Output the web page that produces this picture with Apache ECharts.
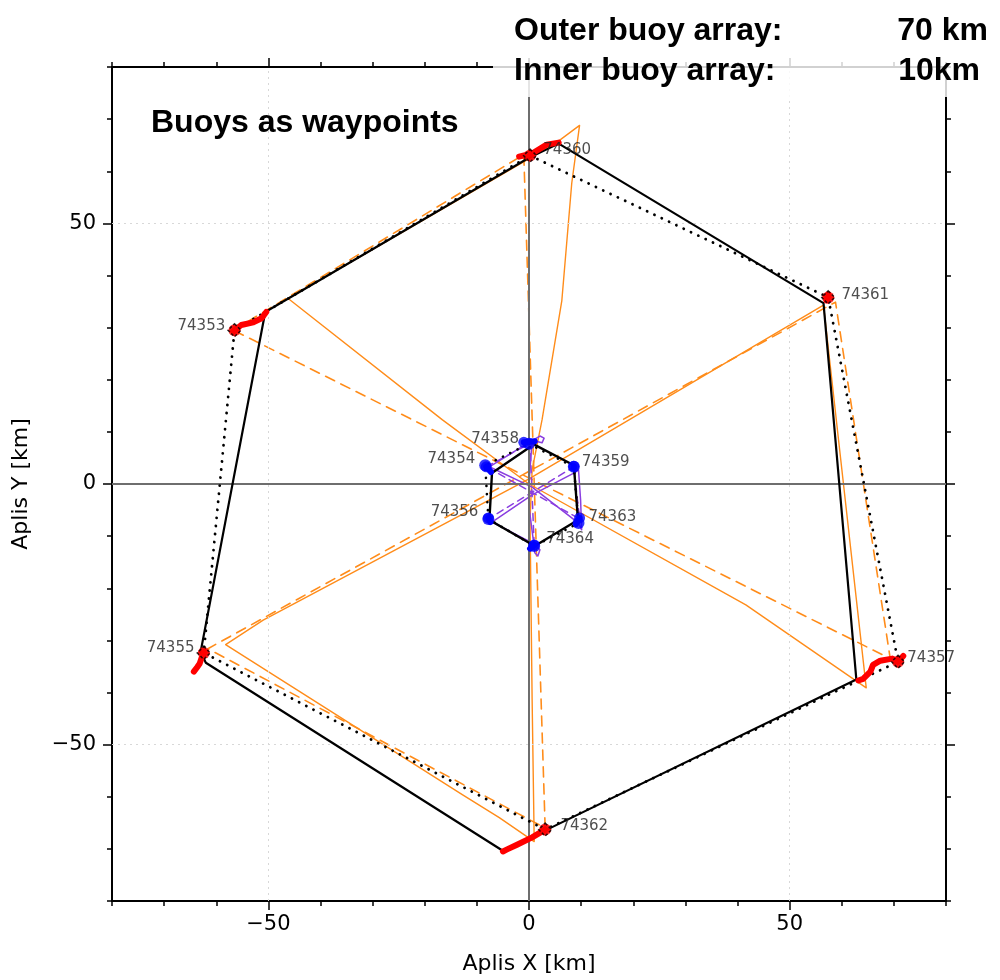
<!DOCTYPE html>
<html>
<head>
<meta charset="utf-8">
<script src="https://cdn.jsdelivr.net/npm/echarts@6/dist/echarts.min.js"></script>
<style>
  html, body { margin: 0; padding: 0; background: #fff; }
  #chart { width: 1000px; height: 980px; }
</style>
</head>
<body>
<div id="chart"></div>
<script>
// Axis range and tick labels (km)
const axisMin = -80;
const axisMax = 80;
const majorTicks = [-50, 0, 50];
const minorTicks = [-80, -70, -60, -50, -40, -30, -20, -10, 0, 10, 20, 30, 40, 50, 60, 70, 80];

// Outer buoy array: final positions (km)
const outerIds = ['74360', '74361', '74357', '74362', '74355', '74353'];
const outerX = [0.2, 57.4, 70.8, 3.1, -62.4, -56.5];
const outerY = [63.0, 35.8, -34.1, -66.3, -32.4, 29.5];

// Inner buoy array: final positions (km)
const innerIds = ['74358', '74359', '74363', '74364', '74356', '74354'];
const innerX = [0.0, 8.6, 9.5, 1.0, -7.8, -8.4];
const innerY = [7.7, 3.3, -7.5, -11.9, -6.7, 3.6];

// Drift tracks of the outer buoys (km)
const drift74360 = [[-1.9, 62.8], [0.6, 63.4], [3.4, 65.1], [5.7, 65.5]];
const drift74361 = [[57.1, 35.2], [57.3, 36.0], [57.4, 36.4]];
const drift74357 = [[71.8, -33.0], [70.8, -34.1], [69.7, -33.5], [67.4, -33.9], [66.0, -34.7], [65.5, -36.0], [64.1, -37.4], [63.2, -37.7]];
const drift74362 = [[3.1, -66.3], [0.6, -67.8], [-2.3, -69.2], [-4.2, -70.1], [-5.0, -70.5]];
const drift74355 = [[-62.2, -32.2], [-62.8, -33.3], [-63.2, -34.5], [-63.7, -35.2], [-64.3, -36.0]];
const drift74353 = [[-56.7, 29.3], [-55.2, 30.5], [-52.9, 31.0], [-51.3, 31.8], [-50.4, 33.0]];

// Drift of the inner buoys (km)
const drift74358 = [[-1.0, 8.0], [1.1, 8.2]];
const drift74359 = [[8.6, 3.4], [8.6, 3.1]];
const drift74363 = [[9.7, -6.5], [9.0, -7.7]];
const drift74364 = [[1.0, -11.7], [0.2, -12.4]];
const drift74356 = [[-7.8, -6.5], [-7.4, -7.3]];
const drift74354 = [[-8.2, 3.3], [-7.3, 2.3]];

// Ship route through the outer buoys at visiting time (km)
const outerRoute = [[-4.8, -70.5], [-62.0, -34.3], [-63.0, -32.2], [-50.6, 33.0], [0.0, 62.6], [5.7, 65.3],
  [56.5, 34.7], [62.8, -37.5], [3.05, -66.5], [-4.8, -70.5]];

// Ship route through the inner buoys (km)
const innerRoute = [[1.1, 7.5], [8.6, 3.6], [9.4, -6.9], [1.1, -11.9], [-7.6, -6.9], [-7.1, 2.1], [0.2, 7.1]];

// Planned track for the outer array (km)
const outerPlan = [[-56.7, 29.5], [-1.0, 63.2], [3.1, -66.0], [-61.6, -31.6], [58.8, 34.9], [69.3, -33.5], [-56.7, 29.5]];

// Sailed track for the outer array (km)
const outerTrack = [[-46.2, 35.6], [5.0, 65.3], [9.7, 68.8], [8.2, 57.7], [6.3, 35.2], [2.5, 12.3], [0.6, 2.7],
  [0.2, -6.9], [0.6, -41.4], [1.0, -68.6], [-5.7, -64.0], [-12.8, -59.6], [-58.2, -30.8], [-51.0, -26.1],
  [0.0, 1.0], [56.5, 34.3], [64.7, -39.1], [41.6, -23.2], [0.0, 0.0], [-16.6, 12.3], [-46.2, 35.6]];

// Planned track for the inner array (km)
const innerPlan = [[-8.2, 3.3], [0.2, 7.8], [1.0, -11.9], [-7.8, -6.7], [8.6, 3.3], [9.7, -6.7], [-8.2, 3.3]];

// Sailed track for the inner array (km)
const innerTrack = [[-7.6, 3.3], [0.0, 8.0], [2.1, 9.2], [2.9, 8.8], [2.5, 7.9], [0.6, 8.4], [0.0, 0.2], [0.0, -4.4],
  [1.0, -12.1], [1.1, -13.2], [1.7, -13.8], [2.1, -12.6], [1.0, -11.5], [-7.1, -7.3], [0.6, -2.1], [8.6, 2.1],
  [9.5, 2.7], [9.9, -3.1], [10.1, -8.8], [9.5, -7.5], [0.6, -0.6], [-7.6, 3.3]];

const orange = '#ff8c1a';
const purple = '#8a3ee0';

const chart = echarts.init(document.getElementById('chart'), null, { renderer: 'canvas' });

const grid = { left: 112, top: 67, width: 834, height: 835 };
const tickFont = { fontFamily: 'DejaVu Sans', fontSize: 21, color: '#000' };
const nameFont = { fontFamily: 'DejaVu Sans', fontSize: 22, color: '#000' };
const fmt = v => (v < 0 ? '\u2212' + Math.abs(v) : String(v));

function axis(position, ticks, len, extra) {
  return Object.assign({
    type: 'value', min: axisMin, max: axisMax, position: position,
    axisLine: { show: true, onZero: false, lineStyle: { color: '#000', width: 2 } },
    axisTick: { show: true, inside: false, length: len, customValues: ticks, lineStyle: { color: '#000', width: 1.5 } },
    axisLabel: { show: false },
    splitLine: { show: false }
  }, extra || {});
}

const xAxes = [
  axis('bottom', minorTicks, 5, {
    name: 'Aplis X [km]', nameLocation: 'middle', nameGap: 52, nameTextStyle: nameFont,
    axisLabel: Object.assign({ customValues: majorTicks, margin: 13, formatter: fmt }, tickFont)
  }),
  axis('bottom', majorTicks, 9),
  axis('top', minorTicks, 5),
  axis('top', majorTicks, 9)
];
const yAxes = [
  axis('left', minorTicks, 5, {
    name: 'Aplis Y [km]', nameLocation: 'middle', nameGap: 80, nameTextStyle: nameFont,
    axisLabel: Object.assign({ customValues: majorTicks, margin: 16, formatter: fmt }, tickFont)
  }),
  axis('left', majorTicks, 9),
  axis('right', minorTicks, 5),
  axis('right', majorTicks, 9)
];

function line(data, color, width, type, z) {
  return {
    type: 'line', data: data, symbol: 'none', silent: true, z: z, animation: false,
    lineStyle: { color: color, width: width, type: type, cap: 'round', join: 'round' }
  };
}

const dotted = [0.1, 8];

const outerFinal = outerX.map((x, i) => [x, outerY[i]]);
const innerFinal = innerX.map((x, i) => [x, innerY[i]]);
const innerDrifts = [drift74358, drift74359, drift74363, drift74364, drift74356, drift74354];
const outerDrifts = [drift74360, drift74361, drift74357, drift74362, drift74355, drift74353];

// label placement for each buoy id
const labelPlace = {
  '74360': ['right', [2, -6]], '74361': ['right', [2, -2]], '74357': ['right', [-2, -4]],
  '74362': ['right', [4, -3]], '74355': ['left', [2, -5]], '74353': ['left', [2, -4]],
  '74358': ['left', [0, -5]], '74359': ['right', [-2, -5]], '74363': ['right', [0, -6]],
  '74364': ['right', [2, -7]], '74356': ['left', [0, -7]], '74354': ['left', [0, -6]]
};
function labelled(ids, pts) {
  return pts.map((p, i) => ({
    value: p, name: ids[i],
    label: { position: labelPlace[ids[i]][0], offset: labelPlace[ids[i]][1] }
  }));
}
const labelStyle = { show: true, formatter: '{b}', fontFamily: 'DejaVu Sans', fontSize: 15, color: '#222', distance: 4 };
const gridDot = { color: '#d8d8d8', width: 1, type: [2, 4] };
const zeroLine = { color: '#6e6e6e', width: 2, type: 'solid' };

const series = [
  // reference grid and zero lines
  {
    type: 'line', data: [], silent: true, z: 1,
    markLine: {
      silent: true, symbol: 'none', label: { show: false }, animation: false,
      data: [
        { xAxis: -50, lineStyle: gridDot }, { xAxis: 50, lineStyle: gridDot },
        { yAxis: -50, lineStyle: gridDot }, { yAxis: 50, lineStyle: gridDot },
        { xAxis: 0, lineStyle: zeroLine }, { yAxis: 0, lineStyle: zeroLine }
      ]
    }
  },
  line(outerPlan, orange, 1.6, [10, 7], 3),
  line(outerTrack, orange, 1.4, 'solid', 3),
  line(innerPlan, purple, 1.5, [7, 5], 4),
  line(innerTrack, purple, 1.5, 'solid', 4),
  line(outerRoute, '#000', 2.2, 'solid', 5),
  line(innerRoute, '#000', 2.4, 'solid', 5),
  line(outerFinal.concat([outerFinal[0]]), '#000', 2.8, dotted, 6),
  line(innerFinal.concat([innerFinal[0]]), '#000', 2.6, dotted, 6)
];
outerDrifts.forEach(d => series.push(line(d, '#ff0000', 6, 'solid', 7)));
innerDrifts.forEach(d => series.push(line(d, '#0000ff', 6, 'solid', 7)));
series.push(
  {
    type: 'scatter', data: outerFinal, symbol: 'circle', symbolSize: 12, z: 8, silent: true,
    itemStyle: { color: '#ff0000' }
  },
  {
    type: 'scatter', data: labelled(outerIds, outerFinal), symbol: 'diamond', symbolSize: 13, z: 9, silent: true,
    itemStyle: { color: 'rgba(255,0,0,0.9)', borderColor: '#000', borderWidth: 1.5, borderType: [3, 2] },
    label: labelStyle
  },
  {
    type: 'scatter', data: innerDrifts.map(d => d[0]), symbol: 'circle', symbolSize: 11, z: 8, silent: true,
    itemStyle: { color: '#0000ff' }
  },
  {
    type: 'scatter', data: labelled(innerIds, innerFinal), symbol: 'circle', symbolSize: 12, z: 9, silent: true,
    itemStyle: { color: '#0000ff' },
    label: labelStyle
  }
);

const headFont = 'bold 32px "Liberation Sans", Arial';
chart.setOption({
  animation: false,
  backgroundColor: '#fff',
  grid: grid,
  xAxis: xAxes,
  yAxis: yAxes,
  series: series,
  graphic: [
    { type: 'rect', z: 100, shape: { x: 493, y: 0, width: 507, height: 97 }, style: { fill: 'rgba(255,255,255,0.82)' } },
    { type: 'text', z: 101, left: 514, top: 15, style: { text: 'Outer buoy array:', font: headFont, fill: '#000' } },
    { type: 'text', z: 101, right: 12, top: 15, style: { text: '70 km', font: headFont, fill: '#000' } },
    { type: 'text', z: 101, left: 514, top: 55, style: { text: 'Inner buoy array:', font: headFont, fill: '#000' } },
    { type: 'text', z: 101, right: 20, top: 55, style: { text: '10km', font: headFont, fill: '#000' } },
    { type: 'text', z: 101, left: 151, top: 107, style: { text: 'Buoys as waypoints', font: headFont, fill: '#000' } }
  ]
});
</script>
</body>
</html>
